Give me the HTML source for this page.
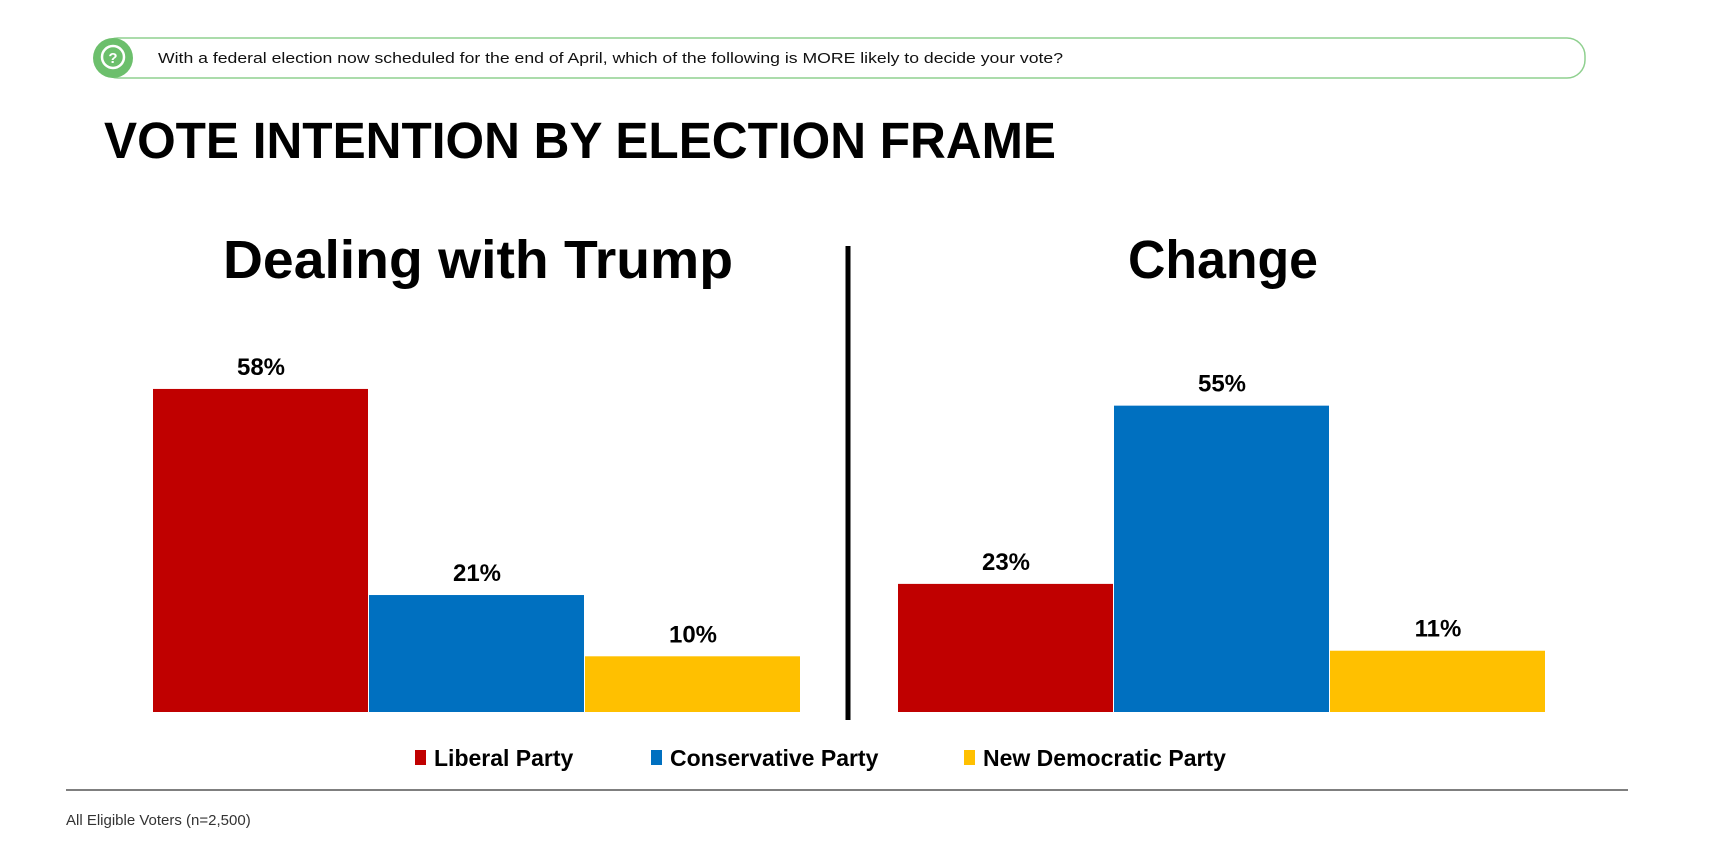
<!DOCTYPE html>
<html><head><meta charset="utf-8"><style>
html,body{margin:0;padding:0;background:#fff;}
svg{display:block;font-family:"Liberation Sans",sans-serif;}
</style></head><body>
<svg id="chart" width="1712" height="846" viewBox="0 0 1712 846">
  <g>
    <rect x="100" y="38" width="1485" height="40" rx="18" fill="#fff" stroke="#8fd08f" stroke-width="1.5"/>
    <circle cx="113" cy="58" r="20" fill="#6cbf6c"/>
    <circle cx="113" cy="57" r="11" fill="none" stroke="#fff" stroke-width="2.5"/>
    <text x="113" y="63" text-anchor="middle" font-size="15" font-weight="bold" fill="#fff">?</text>
    <text x="158" y="63" font-size="15" fill="#111" textLength="905" lengthAdjust="spacingAndGlyphs">With a federal election now scheduled for the end of April, which of the following is MORE likely to decide your vote?</text>
  </g>
  <text x="104" y="158" font-size="51" font-weight="bold" fill="#000" textLength="952" lengthAdjust="spacingAndGlyphs">VOTE INTENTION BY ELECTION FRAME</text>
  <text x="478" y="278" text-anchor="middle" font-size="54" font-weight="bold" fill="#000" textLength="510" lengthAdjust="spacingAndGlyphs">Dealing with Trump</text>
  <text x="1223" y="278" text-anchor="middle" font-size="54" font-weight="bold" fill="#000" textLength="190" lengthAdjust="spacingAndGlyphs">Change</text>
  <line x1="848" y1="246" x2="848" y2="720" stroke="#000" stroke-width="5"/>
  <g id="bars"></g>
  <g>
    <g><rect x="415" y="750" width="11" height="15" fill="#c00000"/><text x="434" y="766" font-size="23" font-weight="bold" fill="#000">Liberal Party</text></g>
    <g><rect x="651" y="750" width="11" height="15" fill="#0070c0"/><text x="670" y="766" font-size="23" font-weight="bold" fill="#000">Conservative Party</text></g>
    <g><rect x="964" y="750" width="11" height="15" fill="#ffc000"/><text x="983" y="766" font-size="23" font-weight="bold" fill="#000">New Democratic Party</text></g>
  </g>
  <line x1="66" y1="790" x2="1628" y2="790" stroke="#555" stroke-width="1.5"/>
  <text x="66" y="825" font-size="15" fill="#333">All Eligible Voters (n=2,500)</text>
</svg>
<script>
const frames = ["Dealing with Trump", "Change"];
const parties = ["Liberal Party", "Conservative Party", "New Democratic Party"];
const trumpValues = [58, 21, 10];
const changeValues = [23, 55, 11];
const colors = ["#c00000", "#0070c0", "#ffc000"];
const NS = "http://www.w3.org/2000/svg";
const baseY = 712, pxPer = 5.57;
function yScale(v){ return baseY - v * pxPer; }
const panelX = [153, 898];
const barW = 216;
const g = document.getElementById('bars');
[trumpValues, changeValues].forEach((vals, p) => {
  vals.forEach((v, i) => {
    const x = panelX[p] + i * barW;
    const r = document.createElementNS(NS, 'rect');
    r.setAttribute('x', x); r.setAttribute('y', yScale(v));
    r.setAttribute('width', barW - 1); r.setAttribute('height', baseY - yScale(v));
    r.setAttribute('fill', colors[i]);
    
    
    g.appendChild(r);
    const t = document.createElementNS(NS, 'text');
    t.setAttribute('x', x + barW / 2); t.setAttribute('y', yScale(v) - 14);
    t.setAttribute('text-anchor', 'middle'); t.setAttribute('font-size', '24');
    t.setAttribute('font-weight', 'bold'); t.setAttribute('fill', '#000');
    t.textContent = v + '%';
    
    
    g.appendChild(t);
  });
});
</script>
</body></html>
